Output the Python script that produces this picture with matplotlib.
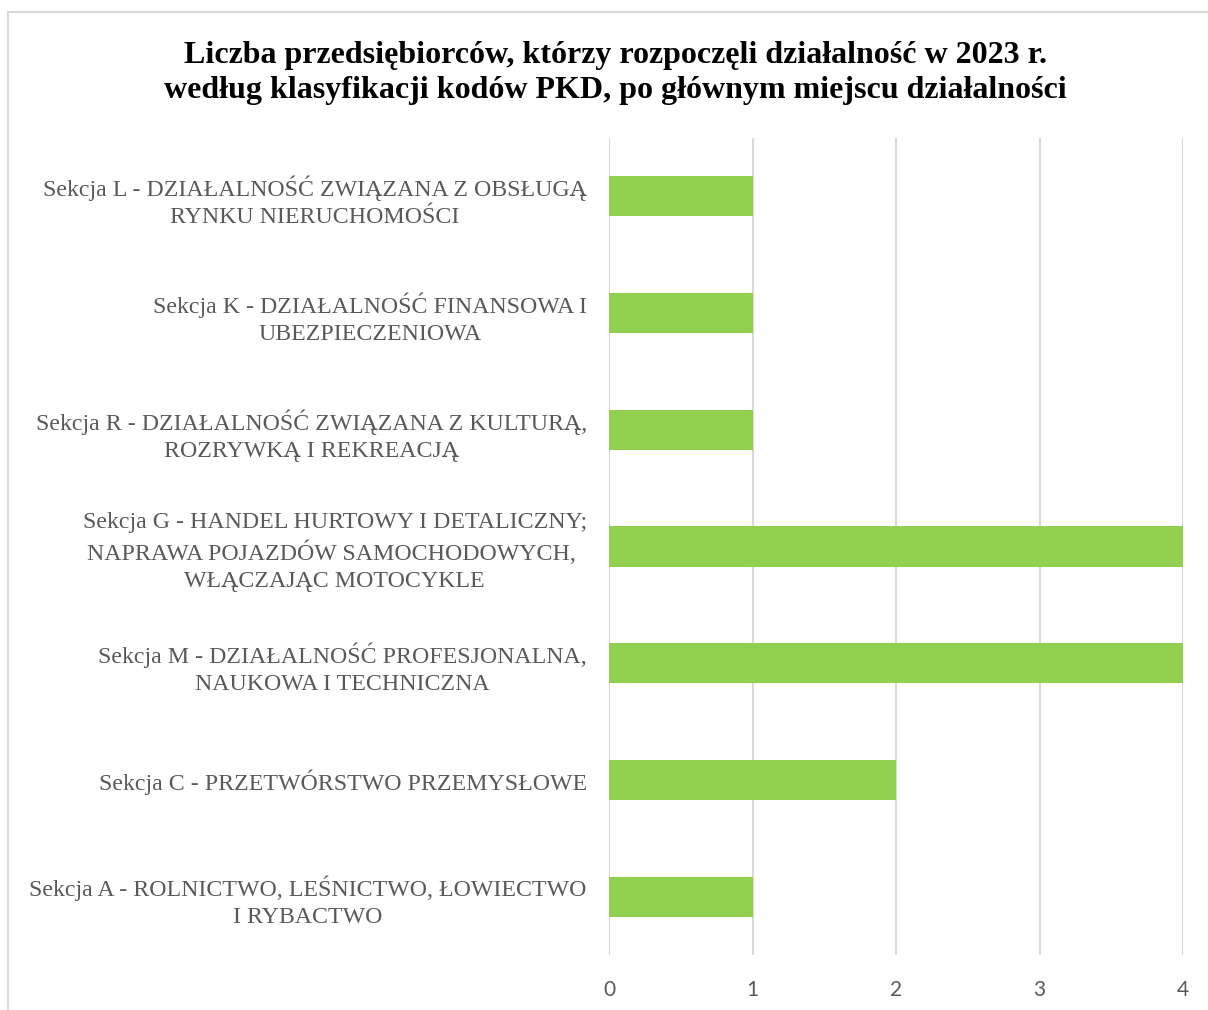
import matplotlib
matplotlib.use("Agg")
import matplotlib.pyplot as plt
from matplotlib.patches import Rectangle

categories = [
    "Sekcja L - DZIAŁALNOŚĆ ZWIĄZANA Z OBSŁUGĄ\nRYNKU NIERUCHOMOŚCI",
    "Sekcja K - DZIAŁALNOŚĆ FINANSOWA I\nUBEZPIECZENIOWA",
    "Sekcja R - DZIAŁALNOŚĆ ZWIĄZANA Z KULTURĄ,\nROZRYWKĄ I REKREACJĄ",
    "Sekcja G - HANDEL HURTOWY I DETALICZNY;\nNAPRAWA POJAZDÓW SAMOCHODOWYCH, \nWŁĄCZAJĄC MOTOCYKLE",
    "Sekcja M - DZIAŁALNOŚĆ PROFESJONALNA,\nNAUKOWA I TECHNICZNA",
    "Sekcja C - PRZETWÓRSTWO PRZEMYSŁOWE",
    "Sekcja A - ROLNICTWO, LEŚNICTWO, ŁOWIECTWO\nI RYBACTWO",
]
values = [1, 1, 1, 4, 4, 2, 1]
xticks = [0, 1, 2, 3, 4]
title = ("Liczba przedsiębiorców, którzy rozpoczęli działalność w 2023 r.\n"
         "według klasyfikacji kodów PKD, po głównym miejscu działalności")

W, H = 1208, 1010
fig = plt.figure(figsize=(W / 100, H / 100), dpi=100)
fig.patch.set_facecolor("white")

# outer chart border (partially cropped at right/bottom)
fig.add_artist(Rectangle((8 / W, -0.05), 1.2, 1 - 12 / H + 0.05,
                         transform=fig.transFigure, fill=False,
                         edgecolor="#D9D9D9", linewidth=1.5))

ax = fig.add_axes([609 / W, 1 - 955 / H, (1183 - 609) / W, (955 - 138) / H])
ypos = list(range(len(categories)))
ax.barh(ypos, values, height=0.345, color="#92D050", zorder=3)
ax.set_ylim(len(categories) - 0.5, -0.5)
ax.set_xlim(0, 4)
ax.set_xticks(xticks)
ax.set_xticklabels([str(t) for t in xticks], family="Lato", fontsize=15, color="#595959")
ax.set_yticks(ypos)
ax.set_yticklabels(categories, family="Liberation Serif", fontsize=17.2, color="#595959",
                   multialignment="center", linespacing=1.38)
ax.tick_params(axis="both", length=0)
ax.tick_params(axis="x", pad=18)
ax.tick_params(axis="y", pad=16)
ax.grid(axis="x", color="#D9D9D9", linewidth=1.5, zorder=0)
for s in ax.spines.values():
    s.set_visible(False)

fig.text(615 / W, 1 - 73 / H, title, ha="center", va="center",
         family="Liberation Serif", fontweight="bold", fontsize=23,
         linespacing=1.25, color="black")

fig.savefig("out.png", dpi=100)
